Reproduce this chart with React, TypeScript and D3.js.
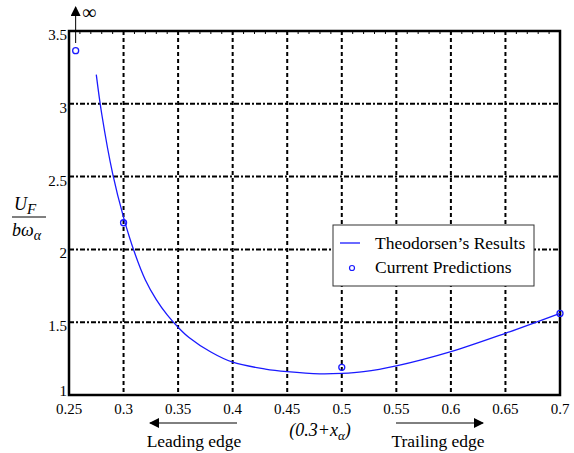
import React from "react";
import * as d3 from "d3";

const curveX = [0.275, 0.28, 0.29, 0.3, 0.31, 0.32, 0.33, 0.34, 0.35, 0.36, 0.38, 0.4, 0.43, 0.45, 0.48, 0.5, 0.52, 0.55, 0.6, 0.65, 0.7];
const curveY = [3.2, 2.93, 2.52, 2.22, 1.98, 1.79, 1.655, 1.55, 1.465, 1.395, 1.295, 1.225, 1.178, 1.16, 1.145, 1.148, 1.16, 1.2, 1.298, 1.424, 1.561];
const predX = [0.2561, 0.3, 0.5, 0.7];
const predY = [3.365, 2.183, 1.19, 1.56];
const xTicks = [0.25, 0.3, 0.35, 0.4, 0.45, 0.5, 0.55, 0.6, 0.65, 0.7];
const yTicks = [1, 1.5, 2, 2.5, 3, 3.5];

export default function App() {
  const W = 574, H = 453;
  const L = 69, R = 560, T = 31, B = 395;
  const x = d3.scaleLinear().domain([0.25, 0.7]).range([L, R]);
  const y = d3.scaleLinear().domain([1, 3.5]).range([B, T]);
  const line = d3.line<number>().x((_, i) => x(curveX[i])).y((d) => y(d)).curve(d3.curveCatmullRom);
  const fs = { fontFamily: "'Liberation Serif', 'DejaVu Serif', serif" };
  const blue = "#1a1aff";
  return (
    <svg width={W} height={H} style={{ position: "absolute", left: 0, top: 0, ...fs }}>
      <defs>
        <marker id="ah" viewBox="0 0 10 10" refX="9" refY="5" markerWidth="10" markerHeight="10" markerUnits="userSpaceOnUse" orient="auto">
          <path d="M0,0 L10,5 L0,10 z" fill="#000" />
        </marker>
        <marker id="ah2" viewBox="0 0 10 10" refX="9" refY="5" markerWidth="14" markerHeight="10" markerUnits="userSpaceOnUse" orient="auto">
          <path d="M0,0 L10,5 L0,10 z" fill="#000" />
        </marker>
      </defs>
      <rect width={W} height={H} fill="#fff" />
      {xTicks.slice(1, -1).map((t) => (
        <line key={"gx" + t} x1={x(t)} x2={x(t)} y1={T} y2={B} stroke="#000" strokeWidth={2} strokeDasharray="4,3" />
      ))}
      {yTicks.slice(1, -1).map((t) => (
        <line key={"gy" + t} x1={L} x2={R} y1={y(t)} y2={y(t)} stroke="#000" strokeWidth={2} strokeDasharray="5,2,2,2" />
      ))}
      {d3.range(0.25, 0.7001, 0.01).map((t) => (
        <line key={"tt" + t} x1={x(t)} x2={x(t)} y1={T} y2={T + 3} stroke="#000" strokeWidth={1} />
      ))}
      <rect x={L} y={T} width={R - L} height={B - T} fill="none" stroke="#000" strokeWidth={2.5} />
      {xTicks.map((t) => (
        <text key={"xl" + t} x={x(t)} y={B + 19} fontSize={15} textAnchor="middle" style={fs}>{String(t)}</text>
      ))}
      {yTicks.map((t) => (
        <text key={"yl" + t} x={L - 2} y={t === 1 ? y(t) + 1 : y(t) + 9} fontSize={15} textAnchor="end" style={fs}>{String(t)}</text>
      ))}
      <path d={line(curveY) || ""} fill="none" stroke={blue} strokeWidth={1.3} />
      {predX.map((v, i) => (
        <circle key={"p" + i} cx={x(v)} cy={y(predY[i])} r={3} fill="none" stroke={blue} strokeWidth={1.3} />
      ))}
      <line x1={x(0.2561)} x2={x(0.2561)} y1={43} y2={7} stroke="#000" strokeWidth={1} markerEnd="url(#ah)" />
      <text x={82} y={19} fontSize={20} style={fs}>∞</text>
      <text x={14} y={210} fontSize={18} fontStyle="italic" style={fs}>U<tspan fontSize={15} dy={4}>F</tspan></text>
      <line x1={12} x2={46} y1={217} y2={217} stroke="#000" strokeWidth={1} />
      <text x={12} y={236} fontSize={18} fontStyle="italic" style={fs}>bω<tspan fontSize={14} dy={4}>α</tspan></text>
      <rect x={333} y={225} width={201} height={61} fill="#fff" stroke="#333" strokeWidth={1} />
      <line x1={340} x2={360} y1={243} y2={243} stroke={blue} strokeWidth={1.3} />
      <circle cx={352} cy={268} r={2.5} fill="none" stroke={blue} strokeWidth={1.2} />
      <text x={375} y={249} fontSize={17.5} style={fs}>Theodorsen’s Results</text>
      <text x={375} y={273} fontSize={17.5} style={fs}>Current Predictions</text>
      <line x1={237} x2={150} y1={423} y2={423} stroke="#000" strokeWidth={1} markerEnd="url(#ah2)" />
      <line x1={396} x2={483} y1={423} y2={423} stroke="#000" strokeWidth={1} markerEnd="url(#ah2)" />
      <text x={194} y={447} fontSize={17.5} textAnchor="middle" style={fs}>Leading edge</text>
      <text x={438} y={447} fontSize={17.5} textAnchor="middle" style={fs}>Trailing edge</text>
      <text x={320} y={436} fontSize={18} fontStyle="italic" textAnchor="middle" style={fs}>(0.3+x<tspan fontSize={13} dy={4}>α</tspan><tspan dy={-4}>)</tspan></text>
    </svg>
  );
}
